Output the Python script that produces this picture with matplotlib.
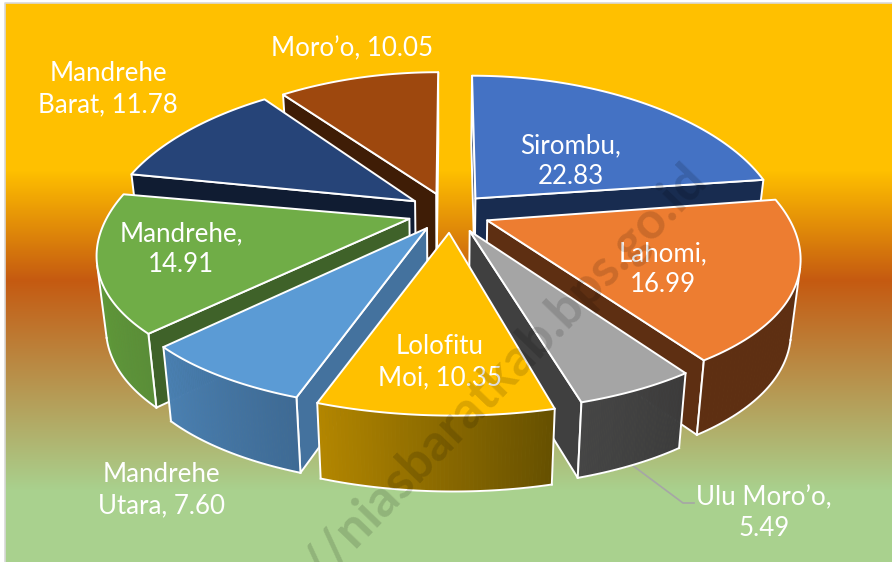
import numpy as np
import matplotlib
matplotlib.use('Agg')
import matplotlib.pyplot as plt
from matplotlib.colors import to_rgb
from matplotlib.patches import Polygon

# kecamatan shares, clockwise from 12 o'clock
names = ['Sirombu', 'Lahomi', 'Ulu Moro\u2019o', 'Lolofitu Moi', 'Mandrehe Utara',
         'Mandrehe', 'Mandrehe Barat', 'Moro\u2019o']
values = [22.83, 16.99, 5.49, 10.35, 7.60, 14.91, 11.78, 10.05]

top_colors = ['#4472C4', '#ED7D31', '#A5A5A5', '#FFC000', '#5B9BD5', '#70AD47', '#264478', '#9E480E']
edge_colors = ['#182C50', '#5E2F12', '#404040', '#6E5400', '#44729E', '#3F6229', '#101C32', '#3F1D06']
arc_left = ['#1E3560', '#5E2F12', '#454545', '#B38600', '#4A80B2', '#5F9A3A', '#1A2E52', '#6A3009']
arc_right = ['#182C50', '#5E2F12', '#3C3C3C', '#665000', '#3E6A94', '#5A8E38', '#101C32', '#3F1D06']

label_text = ['Sirombu,\n22.83', 'Lahomi,\n16.99', 'Ulu Moro\u2019o,\n5.49', 'Lolofitu\nMoi, 10.35',
              'Mandrehe\nUtara, 7.60', 'Mandrehe,\n14.91', 'Mandrehe\nBarat, 11.78', 'Moro\u2019o, 10.05']
label_x = [571, 663, 764, 440, 161, 181, 108, 352]
label_y = [161, 269, 513, 362, 490, 249, 89, 49]

# projection of the disc
cx, cy = 447, 216
A, B, px, py = 305, 144, 0.2, 0.137
ex, ey = 0.115, 0.165
# small per slice shifts of the whole slice and of its apex, in disc units
shift_u = [0.025, 0.012, -0.015, 0.02, 0.025, -0.002, -0.02, 0.0]
shift_v = [0.0, 0.0, 0.0, 0.0, 0.0, 0.0, 0.015, 0.0]
apex_u = [-0.005, 0.013, 0.036, -0.01, -0.025, -0.01, 0.01, 0.0]
apex_v = [0.0, 0.034, 0.045, 0.05, 0.054, 0.025, 0.0, 0.0]
# perspective makes some edges land a little off, degrees
start_adj = [0, -2.5, 0, 2, 0, -1.5, 0, -1]
end_adj = [0, 1.5, -1, 0, 0, 0, 0, 0]


def project(u, v):
    return cx + A * u / (1 + px * v), cy - B * v / (1 + py * v)


def drop(x, y):
    # point straight under the top face
    h = 68 + 0.025 * (y - 100)
    return 445 + (x - 445) * 0.973, y + h


def blend(c1, c2, t):
    a, b = np.array(to_rgb(c1)), np.array(to_rgb(c2))
    return tuple(a + (b - a) * t)


def area(pts):
    pts = np.array(pts)
    return 0.5 * np.sum(pts[:, 0] * np.roll(pts[:, 1], -1) - np.roll(pts[:, 0], -1) * pts[:, 1])


fig = plt.figure(figsize=(8.92, 5.62), dpi=100)
plt.rcParams['font.family'] = ['Lato', 'DejaVu Sans']
ax = fig.add_axes([0, 0, 1, 1])
ax.set_xlim(0, 892)
ax.set_ylim(562, 0)
ax.axis('off')

# background
ys = np.arange(3, 562)
stops = [3, 170, 280, 490, 562]
cols = np.array([to_rgb(c) for c in ['#FFC000', '#FFC000', '#C55A11', '#A9D18E', '#A9D18E']])
grad = np.stack([np.interp(ys, stops, cols[:, i]) for i in range(3)], axis=1)[:, None, :]
ax.imshow(grad, extent=(5, 892, 562, 3), aspect='auto', zorder=0)
ax.set_xlim(0, 892)
ax.set_ylim(562, 0)
ax.plot([4.5, 4.5, 892], [562, 2.5, 2.5], color='#D9D9D9', lw=1.2, zorder=1)

# leader line for Ulu Moro'o
ax.plot([632, 683, 694], [465, 503, 503], color='#A6A6A6', lw=1.2, zorder=2)

# slices
theta = np.cumsum([0] + values) / sum(values) * 2 * np.pi
mids = (theta[:-1] + theta[1:]) / 2
order = np.argsort(-np.cos(mids))
z = 3
for i in order:
    t0 = theta[i] + np.radians(start_adj[i])
    t1 = theta[i + 1] + np.radians(end_adj[i])
    m = mids[i]
    du, dv = ex * np.sin(m) + shift_u[i], ey * np.cos(m) + shift_v[i]
    ts = np.linspace(t0, t1, 60)
    arc = [project(du + np.sin(t), dv + np.cos(t)) for t in ts]
    apex = project(du + apex_u[i], dv + apex_v[i])
    arc_low = [drop(*q) for q in arc]
    apex_low = drop(*apex)

    # radial walls
    for start, sign in ((arc[0], 1), (arc[-1], -1)):
        wall = [apex, start, drop(*start), apex_low]
        if sign * area(wall) < 0:
            ax.add_patch(Polygon(wall, closed=True, fc=edge_colors[i], ec='white', lw=1.4,
                                 joinstyle='round', zorder=z))
            z += 1

    # outer wall, only the parts facing the viewer
    front = [k for k in range(len(arc) - 1) if area([arc[k], arc[k + 1], arc_low[k + 1], arc_low[k]]) < 0]
    for k in front:
        quad = [arc[k], arc[k + 1], arc_low[k + 1], arc_low[k]]
        c = blend(arc_right[i], arc_left[i], (k - front[0]) / max(len(front) - 1, 1))
        ax.add_patch(Polygon(quad, closed=True, fc=c, ec=c, lw=0.6, zorder=z))
    z += 1
    if front:
        a, b = front[0], front[-1] + 1
        ax.plot(*zip(*arc_low[a:b + 1]), color='white', lw=1.4, zorder=z)
        ax.plot(*zip(arc[a], arc_low[a]), color='white', lw=1.4, zorder=z)
        ax.plot(*zip(arc[b], arc_low[b]), color='white', lw=1.4, zorder=z)
    z += 1

    # top face
    ax.add_patch(Polygon([apex] + arc, closed=True, fc=top_colors[i], ec='white', lw=1.4,
                         joinstyle='round', zorder=z))
    z += 1

for x, y, s in zip(label_x, label_y, label_text):
    ax.text(x, y, s, color='white', fontsize=18.6, ha='center', va='center',
            linespacing=1.3, zorder=z)

# watermark
ax.text(699, 172, '//niasbaratkab.bps.go.id', color='black', alpha=0.14, fontsize=37,
        fontweight='bold', rotation=46, rotation_mode='anchor', ha='right', va='center',
        zorder=z + 1)

fig.savefig('out.png', dpi=100)
